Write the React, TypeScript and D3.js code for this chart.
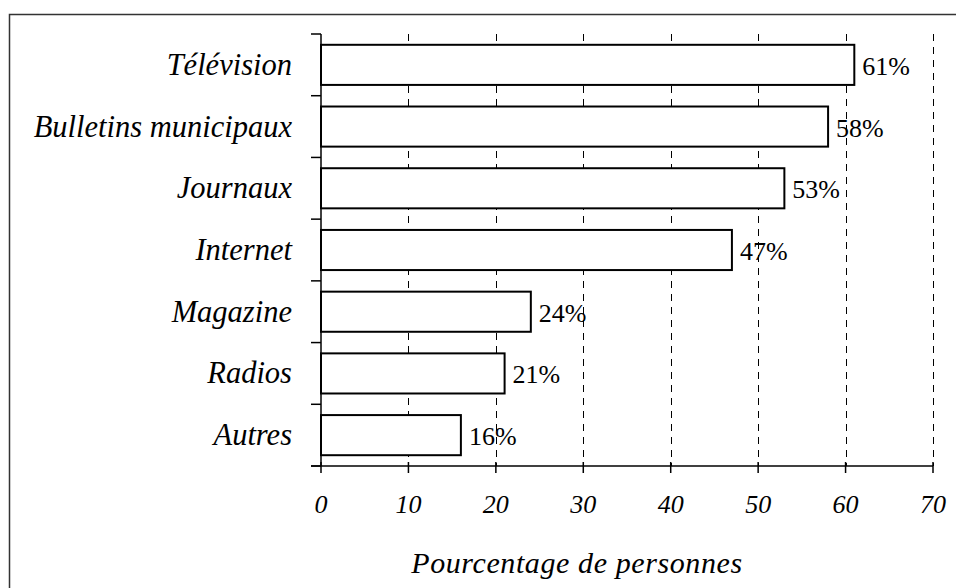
import React from 'react';
import * as d3 from 'd3';

const categories = ['Télévision', 'Bulletins municipaux', 'Journaux', 'Internet', 'Magazine', 'Radios', 'Autres'];
const values = [61, 58, 53, 47, 24, 21, 16];
const xTicks = [0, 10, 20, 30, 40, 50, 60, 70];
const axisTitle = 'Pourcentage de personnes';

const App = () => {
  const ref = React.useRef<SVGSVGElement>(null);

  React.useEffect(() => {
    const svg = d3.select(ref.current);
    svg.selectAll('*').remove();

    const left = 321;
    const right = 933;
    const top = 34;
    const bottom = 466;
    const font = '"Liberation Serif", "Times New Roman", serif';

    const x = d3.scaleLinear().domain([0, 70]).range([left, right]);
    const y = d3.scaleBand<string>()
      .domain(categories)
      .range([top, bottom])
      .paddingInner(0.35)
      .paddingOuter(0.175);

    // outer frame, cropped at right and bottom
    svg.append('rect')
      .attr('x', 9.5).attr('y', 14.5)
      .attr('width', 1000).attr('height', 1000)
      .attr('fill', 'none').attr('stroke', '#333').attr('stroke-width', 1.5);

    // dashed gridlines
    svg.selectAll('.grid')
      .data(xTicks.filter(d => d > 0))
      .enter().append('line')
      .attr('x1', d => Math.round(x(d)) + 0.5).attr('x2', d => Math.round(x(d)) + 0.5)
      .attr('y1', top).attr('y2', bottom)
      .attr('stroke', '#000').attr('stroke-width', 1)
      .attr('stroke-dasharray', '7,6');

    // bars
    svg.selectAll('.bar')
      .data(values)
      .enter().append('rect')
      .attr('x', left)
      .attr('y', (d, i) => y(categories[i])!)
      .attr('width', d => x(d) - left)
      .attr('height', y.bandwidth())
      .attr('fill', '#fff').attr('stroke', '#000').attr('stroke-width', 2);

    // value labels
    svg.selectAll('.val')
      .data(values)
      .enter().append('text')
      .attr('x', d => x(d) + 8)
      .attr('y', (d, i) => y(categories[i])! + y.bandwidth() / 2 + 10)
      .attr('font-family', font).attr('font-size', 26)
      .text(d => `${d}%`);

    // y axis line and ticks between categories
    svg.append('line')
      .attr('x1', left).attr('x2', left).attr('y1', top).attr('y2', bottom)
      .attr('stroke', '#000').attr('stroke-width', 1.5);
    const step = y.step();
    svg.selectAll('.ytick')
      .data(d3.range(categories.length + 1))
      .enter().append('line')
      .attr('x1', left - 10).attr('x2', left)
      .attr('y1', i => top + i * step).attr('y2', i => top + i * step)
      .attr('stroke', '#000').attr('stroke-width', 1.5);

    // category labels
    svg.selectAll('.cat')
      .data(categories)
      .enter().append('text')
      .attr('x', 292)
      .attr('y', d => y(d)! + y.bandwidth() / 2 + 10)
      .attr('text-anchor', 'end')
      .attr('font-family', font).attr('font-style', 'italic').attr('font-size', 30.5)
      .text(d => d);

    // x axis
    svg.append('line')
      .attr('x1', left - 10).attr('x2', right).attr('y1', bottom).attr('y2', bottom)
      .attr('stroke', '#000').attr('stroke-width', 1.5);
    svg.selectAll('.xtick')
      .data(xTicks)
      .enter().append('line')
      .attr('x1', d => x(d)).attr('x2', d => x(d))
      .attr('y1', bottom - 4).attr('y2', bottom + 7)
      .attr('stroke', '#000').attr('stroke-width', 1.5);
    svg.selectAll('.xlabel')
      .data(xTicks)
      .enter().append('text')
      .attr('x', d => x(d)).attr('y', 513)
      .attr('text-anchor', 'middle')
      .attr('font-family', font).attr('font-style', 'italic').attr('font-size', 26)
      .text(d => d);

    svg.append('text')
      .attr('x', 577).attr('y', 573)
      .attr('text-anchor', 'middle')
      .attr('font-family', font).attr('font-style', 'italic').attr('font-size', 30)
      .attr('letter-spacing', 0.6)
      .text(axisTitle);
  }, []);

  return (
    <svg ref={ref} width={956} height={588}
      style={{ position: 'absolute', left: 0, top: 0, background: '#fff' }} />
  );
};

export default App;
